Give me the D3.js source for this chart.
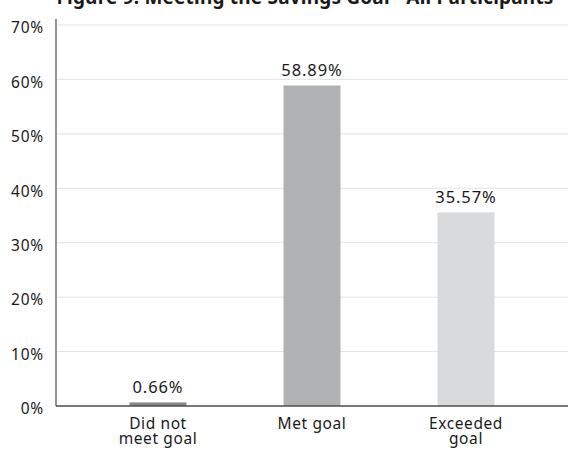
<!DOCTYPE html>
<html>
<head>
<meta charset="utf-8">
<script src="https://cdn.jsdelivr.net/npm/d3@7"></script>
<style>
  html, body { margin: 0; padding: 0; background: #fff; }
  svg { display: block; }
  text { font-family: "Noto Sans", "Open Sans", sans-serif; fill: #1a1a1a; }
</style>
</head>
<body>
<svg id="chart" width="569" height="451"></svg>
<script>
// Savings goal outcomes, all participants
const categories = [["Did not", "meet goal"], ["Met goal"], ["Exceeded", "goal"]];
const values = [0.66, 58.89, 35.57];
const valueLabels = ["0.66%", "58.89%", "35.57%"];
const barColors = ["#878787", "#b1b2b4", "#d9dadc"];
const yTicks = [0, 10, 20, 30, 40, 50, 60, 70];
const title = "Figure 9: Meeting the Savings Goal - All Participants";

const plotLeft = 56, plotRight = 568, plotTop = 19, plotBottom = 406;
const barWidth = 57;

const svg = d3.select("#chart");

const y = d3.scaleLinear().domain([0, 70]).range([plotBottom, 25]);
const x = d3.scalePoint()
  .domain(d3.range(categories.length))
  .range([81, 543])
  .padding(0.5);

// title (runs off the top edge)
svg.append("text")
  .attr("x", 305)
  .attr("y", 4)
  .attr("text-anchor", "middle")
  .style("font-size", "19px")
  .style("font-weight", "bold")
  .style("letter-spacing", "0.2px")
  .text(title);

// horizontal gridlines
svg.append("g")
  .selectAll("line")
  .data(yTicks.filter(t => t > 0))
  .join("line")
  .attr("x1", plotLeft + 1)
  .attr("x2", plotRight)
  .attr("y1", d => y(d))
  .attr("y2", d => y(d))
  .attr("stroke", "#e3e3e3")
  .attr("stroke-width", 1);

// y axis: labels only, vertical rule drawn separately
const yAxis = d3.axisLeft(y)
  .tickValues(yTicks)
  .tickFormat(d => d + "%")
  .tickSize(0)
  .tickPadding(12);

const gy = svg.append("g")
  .attr("transform", `translate(${plotLeft},0)`)
  .call(yAxis);
gy.select(".domain").remove();
gy.selectAll("text")
  .style("font-size", "15.5px")
  .style("font-family", "\"Noto Sans\", sans-serif")
  .style("letter-spacing", "0.8px")
  .attr("fill", "#1a1a1a")
  .attr("dy", "0.5em");

svg.append("line")
  .attr("x1", plotLeft).attr("x2", plotLeft)
  .attr("y1", plotTop).attr("y2", plotBottom)
  .attr("stroke", "#4d4d4d")
  .attr("stroke-width", 1.2);

// bars
svg.append("g")
  .selectAll("rect")
  .data(values)
  .join("rect")
  .attr("x", (d, i) => x(i) - barWidth / 2)
  .attr("width", barWidth)
  .attr("y", d => y(d))
  .attr("height", d => y(0) - y(d))
  .attr("fill", (d, i) => barColors[i]);

// value labels
svg.append("g")
  .selectAll("text")
  .data(values)
  .join("text")
  .attr("x", (d, i) => x(i))
  .attr("y", d => y(d) - 9)
  .attr("text-anchor", "middle")
  .style("font-size", "16.5px")
  .style("letter-spacing", "0.9px")
  .text((d, i) => valueLabels[i]);

// baseline
svg.append("line")
  .attr("x1", plotLeft).attr("x2", plotRight)
  .attr("y1", y(0)).attr("y2", y(0))
  .attr("stroke", "#4d4d4d")
  .attr("stroke-width", 1.6);

// category labels, one text per category with a tspan per line
const cat = svg.append("g")
  .selectAll("text")
  .data(categories)
  .join("text")
  .attr("x", (d, i) => x(i))
  .attr("y", 429)
  .attr("text-anchor", "middle")
  .style("font-size", "15.5px")
  .style("letter-spacing", "0.6px");
cat.selectAll("tspan")
  .data(d => d)
  .join("tspan")
  .attr("x", function () { return d3.select(this.parentNode).attr("x"); })
  .attr("dy", (d, i) => i === 0 ? 0 : 15)
  .text(d => d);
</script>
</body>
</html>
